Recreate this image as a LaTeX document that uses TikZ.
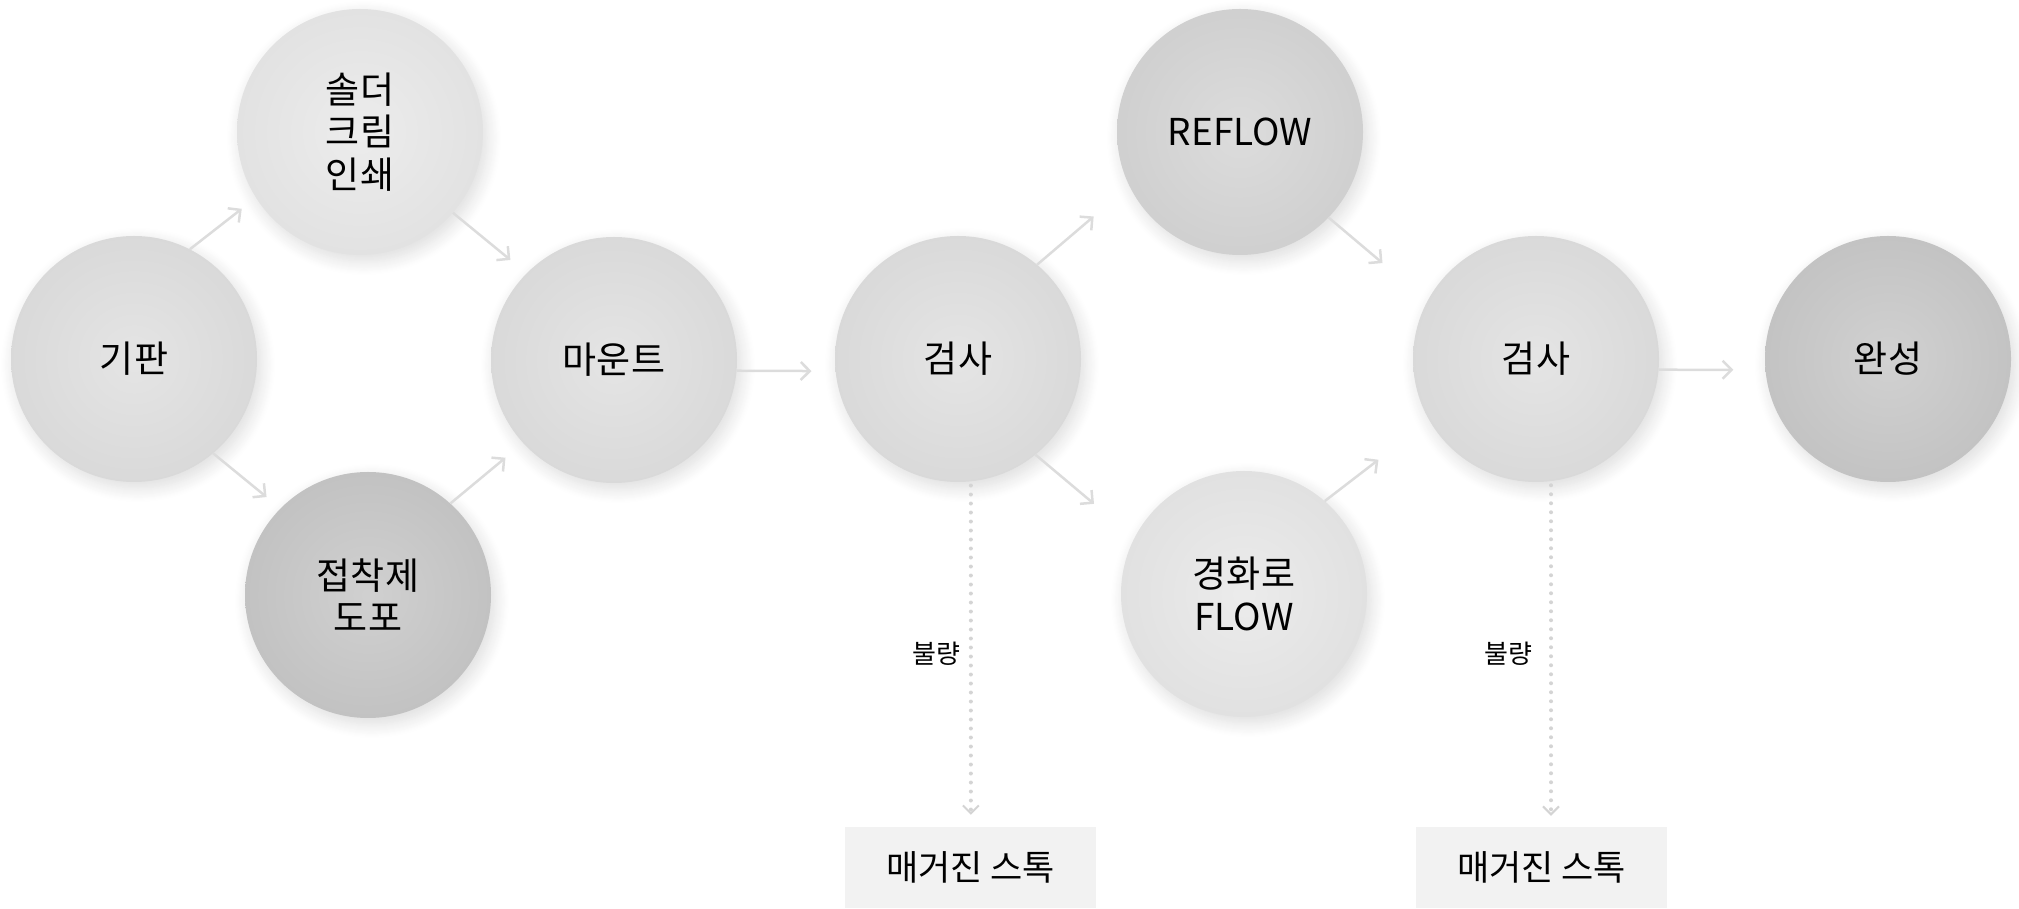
\documentclass[tikz,border=0pt]{standalone}
\usepackage{fontspec}
\setmainfont{Noto Sans CJK KR}
\usetikzlibrary{arrows.meta,shadows.blur,calc}
\definecolor{cmid}{HTML}{E0E0E0}
\definecolor{clight}{HTML}{E9E9E9}
\definecolor{clight2}{HTML}{E8E8E8}
\definecolor{cdark}{HTML}{C8C8C8}
\definecolor{cref}{HTML}{D6D6D6}
\definecolor{cdone}{HTML}{C9C9C9}
\definecolor{cbox}{HTML}{F2F2F2}
\definecolor{carrow}{HTML}{DCDCDC}
\definecolor{cdot}{HTML}{D4D4D4}
\tikzset{
  ball/.style={circle, minimum size=246pt, inner sep=0pt, align=center,
    font=\fontsize{37}{42.5}\selectfont, text=black,
    shading=radial, inner color=#1!85!white, outer color=#1!97!black,
    blur shadow={shadow xshift=4pt, shadow yshift=-6pt, shadow blur radius=14pt,
      shadow blur steps=14, shadow opacity=14}},
  stockbox/.style={rectangle, fill=cbox, minimum width=251pt, minimum height=81pt,
    inner sep=0pt, font=\fontsize{35}{40}\selectfont, text=black},
  arr/.style={draw=carrow, line width=2.5pt,
    -{Straight Barb[length=9pt,width=18pt,line width=2.5pt]}},
  dotline/.style={draw=cdot, line width=4pt, line cap=round,
    dash pattern=on 0pt off 9pt,
    -{Straight Barb[length=8pt,width=16pt,line width=2pt]}},
  faillabel/.style={font=\fontsize{26}{30}\selectfont, text=black, inner sep=0pt, anchor=east}
}
\begin{document}
\begin{tikzpicture}[x=1pt,y=1pt]
\useasboundingbox (0,0) rectangle (2019,908);

\node[ball=cmid]    (gi)  at (134,549)  {기판};
\node[ball=clight]  (sol) at (360,776)  {솔더\\크림\\인쇄};
\node[ball=cdark]   (jeo) at (368,313)  {접착제\\도포};
\node[ball=cmid]    (ma)  at (614,548)  {마운트};
\node[ball=cmid]    (k1)  at (958,549)  {검사};
\node[ball=cref]    (re)  at (1240,776) {REFLOW};
\node[ball=clight2] (gy)  at (1244,314) {경화로\\FLOW};
\node[ball=cmid]    (k2)  at (1536,549) {검사};
\node[ball=cdone]   (wan) at (1888,549) {완성};

\node[stockbox] (box1) at (970.5,40.5) {매거진 스톡};
\node[stockbox] (box2) at (1541.5,40.5) {매거진 스톡};

\draw[arr] (gi.63)   -- ($(sol.center)+(213:141)$);
\draw[arr] (sol.-41) -- ($(ma.center)+(136:144)$);
\draw[arr] (gi.-50)  -- ($(jeo.center)+(136:141)$);
\draw[arr] (jeo.48)  -- ($(ma.center)+(222:146)$);
\draw[arr] (ma.-5)   -- ($(k1.center)+(184.7:147)$);
\draw[arr] (k1.50)   -- ($(re.center)+(210:169)$);
\draw[arr] (k1.-51)  -- ($(gy.center)+(149:175)$);
\draw[arr] (re.-44)  -- ($(k2.center)+(148:181)$);
\draw[arr] (gy.49)   -- ($(k2.center)+(212.6:187)$);
\draw[arr] (k2.-5)   -- ($(wan.center)+(184:155)$);

\draw[dotline, shorten <=4pt, shorten >=12pt] (k1.-84.5) -- (k1.-84.5 |- box1.north);
\draw[dotline, shorten <=4pt, shorten >=11pt] (k2.-83.9) -- (k2.-83.9 |- box2.north);

\node[faillabel] (f1) at (961,254) {불량};
\node[faillabel] (f2) at (1533,254) {불량};
\end{tikzpicture}
\end{document}
